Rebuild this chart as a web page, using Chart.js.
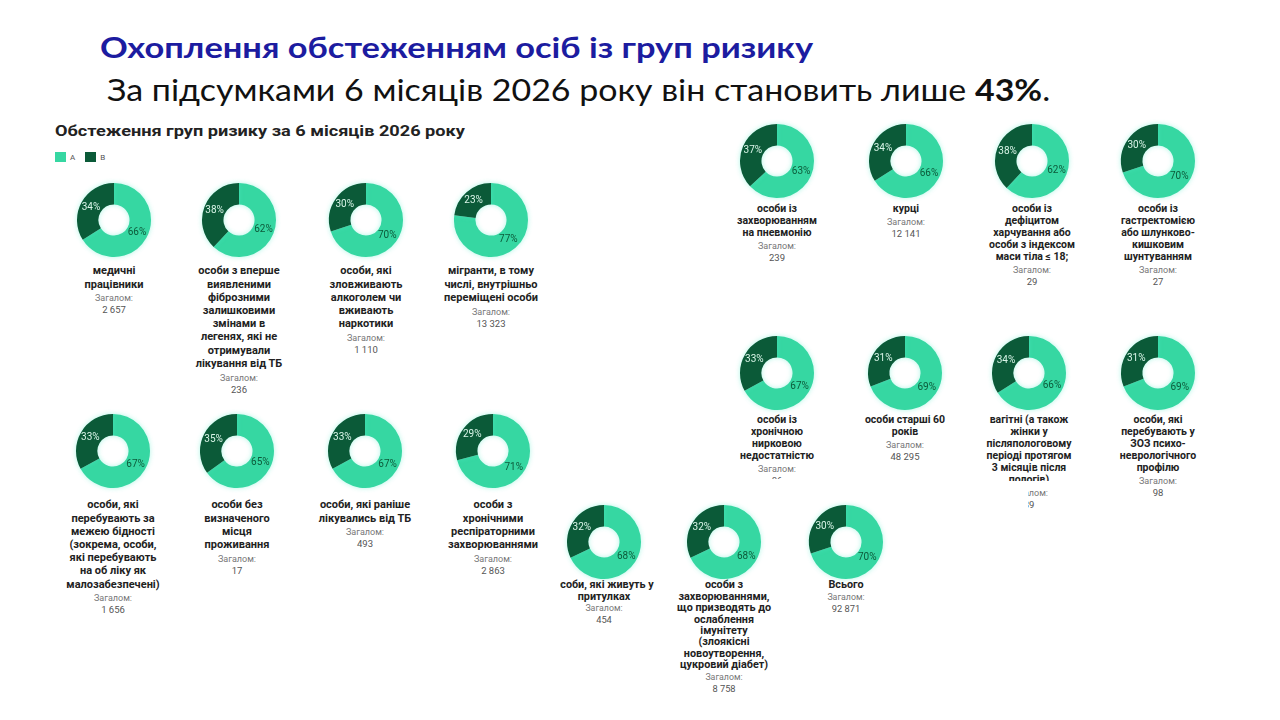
<!DOCTYPE html>
<html lang="uk">
<head>
<meta charset="utf-8">
<title>Охоплення обстеженням осіб із груп ризику</title>
<script src="https://cdn.jsdelivr.net/npm/chart.js@4.4.1/dist/chart.umd.min.js"></script>
<style>
  html, body { margin: 0; padding: 0; background: #fff; }
  body { width: 1280px; height: 720px; position: relative; overflow: hidden; font-family: Roboto, "Noto Sans", sans-serif; }
  .fit { position: absolute; white-space: nowrap; transform-origin: 0 50%; }
  #title { left: 100px; top: 29px; line-height: 36px; font: bold 29px Lato, "Open Sans", sans-serif; color: #1c1ca0; }
  #subtitle { left: 107px; top: 70px; line-height: 36px; font: 31px Lato, "Open Sans", sans-serif; color: #111; }
  #chartTitle { left: 55px; top: 122px; line-height: 18px; font: bold 15px Roboto, sans-serif; color: #222; }
  #legend { position: absolute; left: 55px; top: 152px; display: flex; align-items: center; font: 8px Roboto, sans-serif; color: #555; }
  #legend .sw { width: 11px; height: 10px; margin-right: 4px; }
  #legend .it { display: flex; align-items: center; margin-right: 10px; }
  .donut { position: absolute; width: 84px; height: 84px; z-index: 3; }
  .label { position: absolute; width: 150px; text-align: center; z-index: 1; }
  .label .name { font-weight: bold; color: #222; white-space: pre; }
  .label .sum { color: #777; }
  .label .total { color: #555; }
  .mask { position: absolute; background: #fff; z-index: 2; }
</style>
</head>
<body>
<div id="title" class="fit">Охоплення обстеженням осіб із груп ризику</div>
<div id="subtitle" class="fit">За підсумками 6 місяців 2026 року він становить лише <b>43%</b>.</div>
<div id="chartTitle" class="fit">Обстеження груп ризику за 6 місяців 2026 року</div>
<div id="legend"></div>

<script>
// ── Data ─────────────────────────────────────────────────────────────────────
const seriesLabels = ['A', 'B']

const groups = [
  'медичні\nпрацівники',
  'особи з вперше\nвиявленими\nфіброзними\nзалишковими\nзмінами в\nлегенях, які не\nотримували\nлікування від ТБ',
  'особи, які\nзловживають\nалкоголем чи\nвживають\nнаркотики',
  'мігранти, в тому\nчислі, внутрішньо\nпереміщені особи',
  'особи, які\nперебувають за\nмежею бідності\n(зокрема, особи,\nякі перебувають\nна об ліку як\nмалозабезпечені)',
  'особи без\nвизначеного\nмісця\nпроживання',
  'особи, які раніше\nлікувались від ТБ',
  'особи з\nхронічними\nреспіраторними\nзахворюваннями',
  'особи із\nзахворюванням\nна пневмонію',
  'курці',
  'особи із\nдефіцитом\nхарчування або\nособи з індексом\nмаси тіла ≤ 18;',
  'особи із\nгастректомією\nабо шлунково-\nкишковим\nшунтуванням',
  'особи із\nхронічною\nнирковою\nнедостатністю',
  'особи старші 60\nроків',
  'вагітні (а також\nжінки у\nпісляпологовому\nперіоді протягом\n3 місяців після\nпологів)',
  'особи, які\nперебувають у\nЗОЗ психо-\nневрологічного\nпрофілю',
  'особи, які живуть у\nпритулках',
  'особи з\nзахворюваннями,\nщо призводять до\nослаблення\nімунітету\n(злоякісні\nновоутворення,\nцукровий діабет)',
  'Всього',
]

const shareA = [66, 62, 70, 77, 67, 65, 67, 71, 63, 66, 62, 70, 67, 69, 66, 69, 68, 68, 70]
const shareB = [34, 38, 30, 23, 33, 35, 33, 29, 37, 34, 38, 30, 33, 31, 34, 31, 32, 32, 30]

const totals = ['2 657', '236', '1 110', '13 323', '1 656', '17', '493', '2 863',
  '239', '12 141', '29', '27', '86', '48 295', '39', '98', '454', '8 758', '92 871']

// ── Layout (centre x, centre y, first text line y, panel) ────────────────────
const slots = [
  [114, 220, 271, 'L'], [239, 220, 271, 'L'], [366, 220, 271, 'L'], [491, 220, 271, 'L'],
  [113, 451, 505, 'L'], [237, 451, 505, 'L'], [365, 451, 505, 'L'], [493, 451, 505, 'L'],
  [777, 161, 209, 'R'], [906, 161, 209, 'R'], [1032, 161, 209, 'R'], [1158, 161, 209, 'R'],
  [777, 373, 420, 'R'], [905, 373, 420, 'R'], [1029, 373, 420, 'R'], [1158, 373, 420, 'R'],
  [604, 542, 585, 'B'], [724, 542, 585, 'B'], [846, 542, 585, 'B'],
]

const panelText = {
  L: { size: 11, lh: 13.2, gap: 2.5, small: 9 },
  R: { size: 10.5, lh: 12, gap: 1.5, small: 9 },
  B: { size: 10.8, lh: 11.4, gap: 1, small: 8.8 },
}

const colors = ['#36d7a2', '#0b5a38']
const pctColors = ['#0c5a3a', '#d9f5e8']

// parts of the source image that are covered by the neighbouring panel
const masks = [
  [735, 479, 90, 30],
  [990, 481, 80, 8],
  [990, 489, 38, 24],
  [540, 578, 20, 14],
]

// ── Plugins ──────────────────────────────────────────────────────────────────
const glowPlugin = {
  id: 'glow',
  beforeDatasetsDraw(chart) {
    const ctx = chart.ctx
    ctx.save()
    ctx.shadowColor = 'rgba(80,235,200,0.45)'
    ctx.shadowBlur = 5
  },
  afterDatasetsDraw(chart) {
    chart.ctx.restore()
  },
}

const pctPlugin = {
  id: 'pctLabels',
  afterDatasetsDraw(chart) {
    const ctx = chart.ctx
    const data = chart.data.datasets[0].data
    const meta = chart.getDatasetMeta(0)
    ctx.save()
    ctx.font = '10px Roboto, sans-serif'
    ctx.textAlign = 'center'
    ctx.textBaseline = 'middle'
    meta.data.forEach((arc, i) => {
      const { x, y, startAngle, endAngle, innerRadius, outerRadius } =
        arc.getProps(['x', 'y', 'startAngle', 'endAngle', 'innerRadius', 'outerRadius'], true)
      const a = (startAngle + endAngle) / 2
      const r = (innerRadius + outerRadius) / 2
      ctx.fillStyle = pctColors[i]
      ctx.fillText(`${data[i]}%`, x + Math.cos(a) * r, y + Math.sin(a) * r)
    })
    ctx.restore()
  },
}

// ── Legend ───────────────────────────────────────────────────────────────────
const legend = document.getElementById('legend')
seriesLabels.forEach((s, i) => {
  const it = document.createElement('div')
  it.className = 'it'
  it.innerHTML = `<div class="sw" style="background:${colors[i]}"></div><span>${s}</span>`
  legend.appendChild(it)
})

// ── Donuts ───────────────────────────────────────────────────────────────────
groups.forEach((name, i) => {
  const [cx, cy, ty, panel] = slots[i]
  const pt = panelText[panel]

  const box = document.createElement('div')
  box.className = 'donut'
  box.style.left = (cx - 42) + 'px'
  box.style.top = (cy - 42) + 'px'
  const canvas = document.createElement('canvas')
  box.appendChild(canvas)
  document.body.appendChild(box)

  new Chart(canvas, {
    type: 'doughnut',
    plugins: [glowPlugin, pctPlugin],
    data: {
      labels: seriesLabels,
      datasets: [{
        data: [shareA[i], shareB[i]],
        backgroundColor: colors,
        borderWidth: 0,
      }],
    },
    options: {
      responsive: true,
      maintainAspectRatio: false,
      animation: false,
      cutout: '42%',
      layout: { padding: 5 },
      plugins: { legend: { display: false }, tooltip: { enabled: false } },
    },
  })

  const lab = document.createElement('div')
  lab.className = 'label'
  lab.style.left = (cx - 75) + 'px'
  lab.style.top = (ty - pt.lh / 2) + 'px'
  lab.innerHTML =
    `<div class="name" style="font-size:${pt.size}px;line-height:${pt.lh}px"></div>` +
    `<div class="sum" style="font-size:${pt.small}px;line-height:11px;margin-top:${pt.gap}px">Загалом:</div>` +
    `<div class="total" style="font-size:${pt.small + 0.5}px;line-height:11px">${totals[i]}</div>`
  lab.querySelector('.name').textContent = name
  document.body.appendChild(lab)
})

masks.forEach(([x, y, w, h]) => {
  const m = document.createElement('div')
  m.className = 'mask'
  Object.assign(m.style, { left: x + 'px', top: y + 'px', width: w + 'px', height: h + 'px' })
  document.body.appendChild(m)
})

// stretch the heading lines to the widths they have on the slide
function fitWidth(id, w) {
  const el = document.getElementById(id)
  el.style.transform = 'none'
  el.style.transform = `scaleX(${w / el.offsetWidth})`
}
function fitAll() {
  fitWidth('title', 713)
  fitWidth('subtitle', 943)
  fitWidth('chartTitle', 410)
}
fitAll()
document.fonts && document.fonts.ready.then(fitAll)
</script>
</body>
</html>
